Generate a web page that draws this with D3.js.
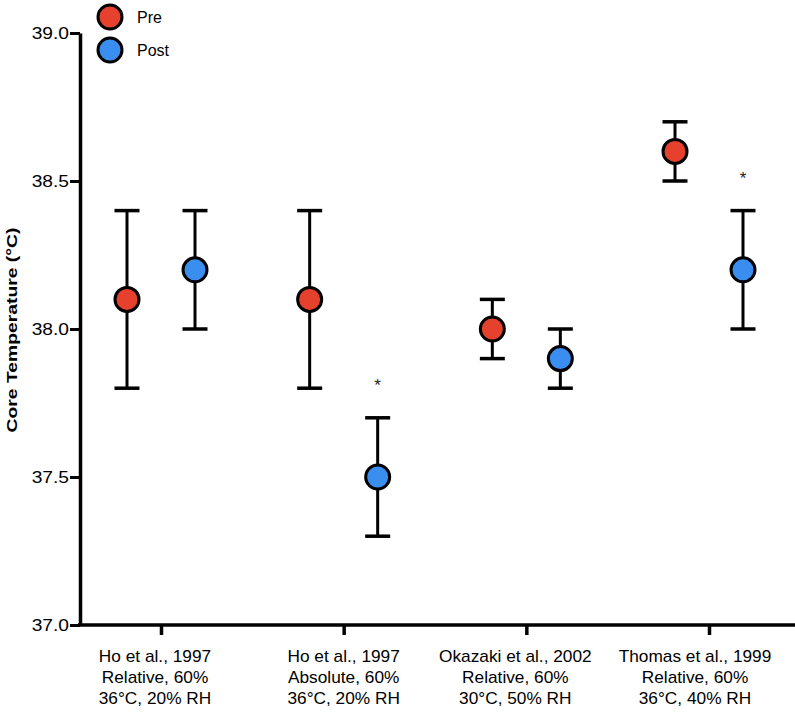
<!DOCTYPE html>
<html><head><meta charset="utf-8">
<script src="https://cdn.jsdelivr.net/npm/d3@7"></script>
<style>body{margin:0;background:#fff}svg{display:block}text{font-family:"Liberation Sans",Arial,sans-serif}</style>
</head><body>
<script>
const categories = [
  ["Ho et al., 1997","Relative, 60%","36°C, 20% RH"],
  ["Ho et al., 1997","Absolute, 60%","36°C, 20% RH"],
  ["Okazaki et al., 2002","Relative, 60%","30°C, 50% RH"],
  ["Thomas et al., 1999","Relative, 60%","36°C, 40% RH"]
];
const preMean = [38.1, 38.1, 38.0, 38.6];
const preLow  = [37.8, 37.8, 37.9, 38.5];
const preHigh = [38.4, 38.4, 38.1, 38.7];
const postMean = [38.2, 37.5, 37.9, 38.2];
const postLow  = [38.0, 37.3, 37.8, 38.0];
const postHigh = [38.4, 37.7, 38.0, 38.4];
const significant = [false, true, false, true];
const yTicks = [37.0, 37.5, 38.0, 38.5, 39.0];
const seriesNames = ["Pre","Post"];
const seriesColors = ["#e5412c","#3a8ef0"];

const W=795,H=715;
const svg=d3.select("body").append("svg").attr("width",W).attr("height",H);
const y=d3.scaleLinear().domain([37,39]).range([625,33]);
const x=d3.scalePoint().domain(d3.range(categories.length)).range([161,709]);
const off=34;

// axes
const yAxis=d3.axisLeft(y).tickValues(yTicks).tickFormat(d3.format(".1f")).tickSize(10).tickSizeOuter(0);
const gy=svg.append("g").attr("transform","translate(80,0)").call(yAxis);
gy.select(".domain").attr("stroke","#000").attr("stroke-width",3.5);
gy.selectAll(".tick line").attr("stroke","#000").attr("stroke-width",3);
gy.selectAll(".tick text").attr("font-size",16).attr("fill","#000").attr("x",null).attr("dy",null)
  .attr("text-anchor","end").attr("dominant-baseline","middle")
  .attr("transform","translate(-11,1) scale(1.2,1)");

svg.append("line").attr("x1",78).attr("x2",795).attr("y1",625).attr("y2",625).attr("stroke","#000").attr("stroke-width",3.5);
const xAxis=d3.axisBottom(x).tickSize(10).tickSizeOuter(0).tickFormat("");
const gx=svg.append("g").attr("transform","translate(0,625)").call(xAxis);
gx.select(".domain").remove();
gx.selectAll(".tick line").attr("stroke","#000").attr("stroke-width",3.5);

const labelDx=[-6,0,-11,-14];
categories.forEach((lines,i)=>{
  const t=svg.append("text").attr("text-anchor","middle").attr("font-size",16).attr("fill","#000")
    .attr("transform",`translate(${x(i)+labelDx[i]},662) scale(1.08,1)`);
  lines.forEach((l,j)=>t.append("tspan").attr("x",0).attr("y",j*21).text(l));
});

svg.append("text").attr("transform","translate(17,330) rotate(-90) scale(1.38,1)").attr("text-anchor","middle")
  .attr("font-size",14).attr("font-weight","bold").text("Core Temperature (°C)");

function drawSeries(mean,low,high,dxo,color){
  const g=svg.append("g");
  categories.forEach((c,i)=>{
    const cx=x(i)+dxo;
    g.append("line").attr("x1",cx).attr("x2",cx).attr("y1",y(low[i])).attr("y2",y(high[i])).attr("stroke","#000").attr("stroke-width",3);
    [low[i],high[i]].forEach(v=>g.append("line").attr("x1",cx-12.5).attr("x2",cx+12.5).attr("y1",y(v)).attr("y2",y(v)).attr("stroke","#000").attr("stroke-width",3.5));
    g.append("circle").attr("cx",cx).attr("cy",y(mean[i])).attr("r",12).attr("fill",color).attr("stroke","#000").attr("stroke-width",3);
  });
}
drawSeries(preMean,preLow,preHigh,-off,seriesColors[0]);
drawSeries(postMean,postLow,postHigh,off,seriesColors[1]);

significant.forEach((s,i)=>{
  if(!s) return;
  svg.append("text").attr("x",x(i)+off).attr("y",y(postHigh[i])-27).attr("text-anchor","middle")
    .attr("font-size",17).attr("fill","#222").text("*");
});

// legend
seriesNames.forEach((n,i)=>{
  const ly=17+i*33;
  svg.append("circle").attr("cx",110).attr("cy",ly).attr("r",12).attr("fill",seriesColors[i]).attr("stroke","#000").attr("stroke-width",3);
  svg.append("text").attr("x",137).attr("y",ly+6).attr("font-size",16).attr("fill","#000").text(n);
});
</script>
</body></html>
